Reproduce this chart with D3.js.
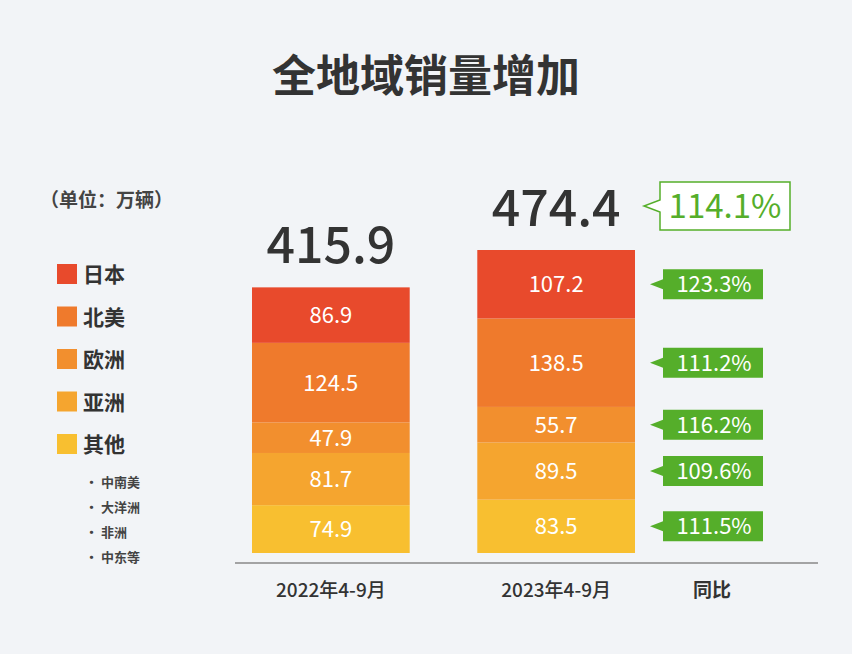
<!DOCTYPE html>
<html><head><meta charset="utf-8">
<script src="https://d3js.org/d3.v7.min.js"></script>
<style>
body{margin:0;background:#f2f4f7;}
text{font-family:"Noto Sans CJK SC","Noto Sans",sans-serif;}
</style></head>
<body><div id="chart"></div>
<script>
const periods = ["2022年4-9月", "2023年4-9月"];
const regions = ["其他", "亚洲", "欧洲", "北美", "日本"]; // bottom to top
const v2022 = [74.9, 81.7, 47.9, 124.5, 86.9];
const v2023 = [83.5, 89.5, 55.7, 138.5, 107.2];
const totals = [415.9, 474.4];
const yoy = [111.5, 109.6, 116.2, 111.2, 123.3];
const totalYoy = 114.1;
const subOthers = ["中南美", "大洋洲", "非洲", "中东等"];
const colors = ["#f8bf30", "#f5a52f", "#f28f2e", "#ef7a2c", "#e84a2c"];

const W = 852, H = 654, base = 553;
const svg = d3.select("#chart").append("svg").attr("width", W).attr("height", H);
svg.append("rect").attr("width", W).attr("height", H).attr("fill", "#f2f4f7");

svg.append("text").attr("x", 426).attr("y", 92).attr("text-anchor", "middle")
  .attr("font-size", 44).attr("font-weight", 700).attr("fill", "#333").text("全地域销量增加");

const x = d3.scaleBand().domain(periods).range([252, 635]).paddingInner(0.3).paddingOuter(0);
const y = d3.scaleLinear().domain([0, 474.4]).range([base, 250]);

const series = [v2022, v2023];
periods.forEach((p, i) => {
  let acc = 0;
  series[i].forEach((v, j) => {
    const y0 = y(acc), y1 = y(acc + v);
    svg.append("rect").attr("x", x(p)).attr("width", x.bandwidth())
      .attr("y", y1).attr("height", y0 - y1).attr("fill", colors[j]);
    svg.append("text").attr("x", x(p) + x.bandwidth() / 2).attr("y", (y0 + y1) / 2 + 8)
      .attr("text-anchor", "middle").attr("font-size", 22).attr("fill", "#fff").text(v.toFixed(1));
    acc += v;
  });
  svg.append("text").attr("x", x(p) + x.bandwidth() / 2).attr("y", y(totals[i]) - 24)
    .attr("text-anchor", "middle").attr("font-size", 50).attr("font-weight", 500)
    .attr("fill", "#333").text(totals[i].toFixed(1));
  svg.append("text").attr("x", x(p) + x.bandwidth() / 2).attr("y", 597)
    .attr("text-anchor", "middle").attr("font-size", 19).attr("font-weight", 500).attr("fill", "#333").text(p);
});
svg.append("text").attr("x", 712).attr("y", 597).attr("text-anchor", "middle")
  .attr("font-size", 19).attr("font-weight", 700).attr("fill", "#333").text("同比");

svg.append("line").attr("x1", 235).attr("x2", 818).attr("y1", 563).attr("y2", 563)
  .attr("stroke", "#888").attr("stroke-width", 1.5);

// YoY tags
const green = "#55ae2a";
let acc = 0;
v2023.forEach((v, j) => {
  const cy = (y(acc) + y(acc + v)) / 2; acc += v;
  const bx = 663, bw = 100, bh = 30;
  svg.append("path").attr("fill", green)
    .attr("d", `M${bx},${cy - bh / 2}H${bx + bw}V${cy + bh / 2}H${bx}V${cy + 5}L${bx - 13},${cy}L${bx},${cy - 5}Z`);
  svg.append("text").attr("x", bx + bw / 2 + 1).attr("y", cy + 8).attr("text-anchor", "middle")
    .attr("font-size", 22).attr("fill", "#fff").text(yoy[j].toFixed(1) + "%");
});
{
  const cy = 206, bx = 660, bw = 130, bh = 48;
  svg.append("path").attr("fill", "#fff").attr("stroke", green).attr("stroke-width", 1.5)
    .attr("d", `M${bx},${cy - bh / 2}H${bx + bw}V${cy + bh / 2}H${bx}V${cy + 6}L${bx - 16},${cy}L${bx},${cy - 6}Z`);
  svg.append("text").attr("x", bx + bw / 2).attr("y", cy + 12).attr("text-anchor", "middle")
    .attr("font-size", 33).attr("fill", green).text(totalYoy.toFixed(1) + "%");
}

// legend
svg.append("text").attr("x", 40).attr("y", 207).attr("font-size", 19).attr("font-weight", 700)
  .attr("fill", "#444").text("（单位：万辆）");
regions.slice().reverse().forEach((r, k) => {
  const ly = 274 + k * 42.5;
  svg.append("rect").attr("x", 57).attr("y", ly - 10).attr("width", 20).attr("height", 20)
    .attr("fill", colors[4 - k]);
  svg.append("text").attr("x", 83).attr("y", ly + 8).attr("font-size", 21).attr("font-weight", 700)
    .attr("fill", "#333").text(r);
});
subOthers.forEach((s, k) => {
  svg.append("text").attr("x", 85).attr("y", 487 + k * 25).attr("font-size", 13).attr("font-weight", 700)
    .attr("fill", "#444").text("· " + s);
});
</script></body></html>
